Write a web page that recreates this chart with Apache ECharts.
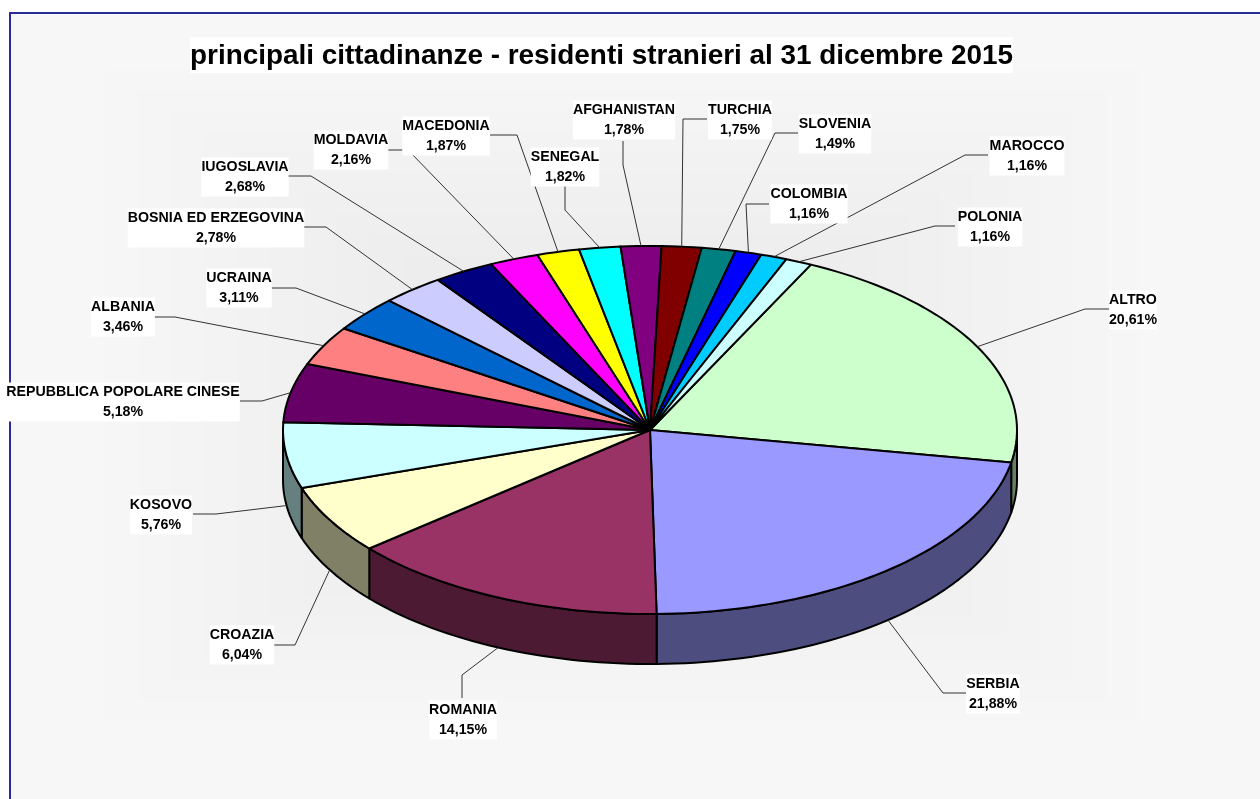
<!DOCTYPE html>
<html><head><meta charset="utf-8">
<style>html,body{margin:0;padding:0;background:#fff}#c{width:1260px;height:799px}</style>
<script src="https://cdn.jsdelivr.net/npm/echarts@6/dist/echarts.min.js"></script>
</head><body><div id="c"></div>
<script>
// ---- data ----
const titleText = 'principali cittadinanze - residenti stranieri al 31 dicembre 2015';
const categories = ['ALTRO','SERBIA','ROMANIA','CROAZIA','KOSOVO','REPUBBLICA POPOLARE CINESE','ALBANIA','UCRAINA','BOSNIA ED ERZEGOVINA','IUGOSLAVIA','MOLDAVIA','MACEDONIA','SENEGAL','AFGHANISTAN','TURCHIA','SLOVENIA','COLOMBIA','MAROCCO','POLONIA'];
const shares = [20.61,21.88,14.15,6.04,5.76,5.18,3.46,3.11,2.78,2.68,2.16,1.87,1.82,1.78,1.75,1.49,1.16,1.16,1.16];
// ---- styles ----
const palette = ['#CCFFCC','#9999FF','#993366','#FFFFCC','#CCFFFF','#660066','#FF8080','#0066CC','#CCCCFF','#000080','#FF00FF','#FFFF00','#00FFFF','#800080','#800000','#008080','#0000FF','#00CCFF','#CCFFFF'];
// ---- layout ----
const CX = 650, CY = 430, RX = 367, RY = 184, DEPTH = 50, START_DEG = -64.0;
const labelCenters = [[1133,310],[993,694],[463,720],[242,645],[161,515],[123,402],[123,317],[239,288],[216,228],[245,177],[351,150],[446,136],[565,167],[624,120],[740,120],[835,134],[809,204],[1027,156],[990,227]];
const elbows = [[1085,309],[943,693],[462,675],[295,645],[216,514],[262,401],[175,317],[296,288],[326,227],[311,176],[408,150],[517,135],[565,210],[623,165],[683,119],[775,133],[746,204],[965,155],[935,226]];
const labelEnds = [[1109,309],[966,693],[462,698],[273,645],[193,514],[240,401],[154,317],[272,288],[304,227],[288,176],[388,150],[490,135],[565,186],[623,141],[707,119],[798,133],[769,204],[988,155],[955,226]];

const total = shares.reduce((a,b)=>a+b,0);
let acc = START_DEG;
const rows = shares.map((v,i)=>{const a0=acc; acc+=v/total*360; return [v,a0,acc,i];});

const rad = d=>d*Math.PI/180;
const pt = (t,dy)=>[CX+RX*Math.cos(rad(t)), CY+RY*Math.sin(rad(t))+(dy||0)];
function arc(a0,a1,dy){const n=Math.max(2,Math.ceil((a1-a0)/1.5));const o=[];for(let k=0;k<=n;k++)o.push(pt(a0+(a1-a0)*k/n,dy));return o;}
function dark(hex){const n=parseInt(hex.slice(1),16);const h=x=>Math.round(x/2);return `rgb(${h(n>>16&255)},${h(n>>8&255)},${h(n&255)})`;}

const sliceItem = (p,api)=>{
  const a0=api.value(1),a1=api.value(2),i=api.value(3),children=[];
  const s=Math.max(a0,0),e=Math.min(a1,180);
  if(e>s){
    children.push({type:'polygon',shape:{points:arc(s,e,0).concat(arc(s,e,DEPTH).reverse())},
      style:{fill:dark(palette[i]),stroke:'#000',lineWidth:2,lineJoin:'round'}});
  }
  children.push({type:'polygon',shape:{points:[[CX,CY]].concat(arc(a0,a1,0))},
    style:{fill:palette[i],stroke:'#000',lineWidth:2,lineJoin:'round'}});
  return {type:'group',children};
};
const leaderItem = (p,api)=>{
  const a0=api.value(1),a1=api.value(2),i=api.value(3),m=(a0+a1)/2;
  const front=m>0&&m<180;
  return {type:'polyline',shape:{points:[pt(m,front?DEPTH:0),elbows[i],labelEnds[i]]},
    style:{fill:null,stroke:'#333',lineWidth:1}};
};
const labelItem = (p,api)=>{
  const i=api.value(3);
  return {type:'text',style:{x:labelCenters[i][0],y:labelCenters[i][1],
    text:categories[i]+'\n'+api.value(0).toFixed(2).replace('.',',')+'%',
    align:'center',verticalAlign:'middle',font:'bold 14.2px "Liberation Sans", Arial, sans-serif',
    lineHeight:19.5,fill:'#000',backgroundColor:'#fff'}};
};

// concentric background bands
const bands=[{type:'rect',shape:{x:10,y:13,width:1250,height:786},style:{fill:'#f7f7f7'},silent:true}];
for(let k=0;k<16;k++){
  const hw=517-33*k,hh=325-20.5*k,g=246-k;
  bands.push({type:'rect',shape:{x:622-hw,y:395-hh,width:2*hw,height:2*hh},style:{fill:`rgb(${g},${g},${g})`},silent:true});
}
bands.push({type:'polyline',shape:{points:[[10,799],[10,13],[1260,13]]},style:{fill:null,stroke:'#2b2b96',lineWidth:2},silent:true});

const chart=echarts.init(document.getElementById('c'),null,{renderer:'canvas'});
chart.setOption({
  animation:false,backgroundColor:'#fff',
  title:{text:titleText,left:190,top:37,padding:[5,0,3,0],backgroundColor:'#fff',
    textStyle:{fontFamily:'"Liberation Sans", Arial, sans-serif',fontWeight:'bold',fontSize:27.9,color:'#000',lineHeight:28}},
  graphic:{elements:bands},
  series:[
    {type:'custom',coordinateSystem:'none',z:2,silent:true,data:rows,renderItem:sliceItem},
    {type:'custom',coordinateSystem:'none',z:3,silent:true,data:rows,renderItem:leaderItem},
    {type:'custom',coordinateSystem:'none',z:4,silent:true,data:rows,renderItem:labelItem}
  ]
});
</script></body></html>
